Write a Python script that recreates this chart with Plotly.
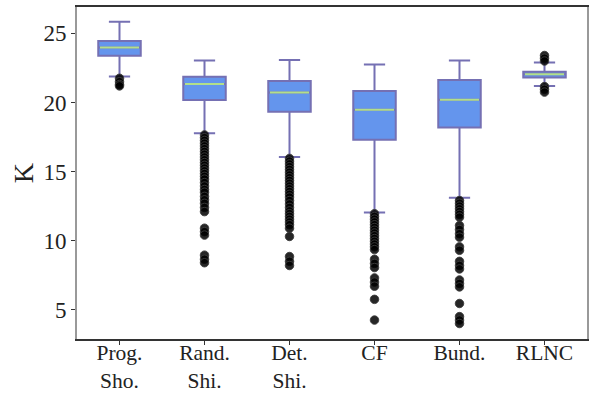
import plotly.graph_objects as go

# Schemes compared, as shown on the x axis
labels = ["Prog.<br>Sho.", "Rand.<br>Shi.", "Det.<br>Shi.", "CF", "Bund.", "RLNC"]

# Box statistics of K per scheme
q1 = [23.38, 20.17, 19.32, 17.31, 18.19, 21.80]
median = [23.98, 21.34, 20.73, 19.47, 20.20, 22.05]
q3 = [24.45, 21.87, 21.56, 20.83, 21.63, 22.23]
lower_whisker = [21.88, 17.77, 16.05, 12.04, 13.10, 21.20]
upper_whisker = [25.85, 23.03, 23.08, 22.74, 23.03, 22.89]

# Outlying runs per scheme
outliers_prog = [21.75, 21.5, 21.3, 21.2]
outliers_rand = [17.65, 17.45, 17.25, 17.05, 16.85, 16.65, 16.45, 16.25, 16.05,
                 15.85, 15.65, 15.45, 15.25, 15.05, 14.85, 14.65, 14.45,
                 14.2, 13.95, 13.7, 13.5, 13.2, 12.95, 12.7, 12.4, 12.1,
                 10.9, 10.65, 10.4, 8.95, 8.65, 8.4]
outliers_det = [15.95, 15.75, 15.55, 15.35, 15.15, 14.95, 14.75, 14.55, 14.35,
                14.15, 13.95, 13.75, 13.55, 13.35, 13.15, 12.9, 12.65, 12.4,
                12.15, 11.95, 11.75, 11.55, 11.35, 11.15, 10.9, 10.3,
                8.85, 8.5, 8.2]
outliers_cf = [11.95, 11.75, 11.55, 11.35, 11.15, 10.95, 10.75, 10.55, 10.35,
               10.15, 9.95, 9.75, 9.55, 9.35, 8.65, 8.35, 8.05,
               7.3, 7.0, 6.7, 5.75, 4.25]
outliers_bund = [12.9, 12.7, 12.5, 12.3, 12.1, 11.9, 11.7, 11.1, 10.8, 10.5,
                 10.25, 9.55, 9.3, 8.5, 8.2, 7.95, 7.15, 6.9, 6.65, 5.45,
                 4.5, 4.25, 4.0]
outliers_rlnc = [23.4, 23.2, 23.0, 21.15, 20.95, 20.75]

outliers = [outliers_prog, outliers_rand, outliers_det,
            outliers_cf, outliers_bund, outliers_rlnc]

yticks = [5, 10, 15, 20, 25]

BOX_W = 0.5
EDGE = "#7570b3"
FILL = "#6495ed"
MEDIAN = "#b2df8a"
FONT = "Liberation Serif"

positions = list(range(1, len(labels) + 1))

fig = go.Figure()

fig.add_trace(go.Box(
    x=positions,
    q1=q1, median=median, q3=q3,
    lowerfence=lower_whisker, upperfence=upper_whisker,
    width=BOX_W, whiskerwidth=0.5,
    fillcolor=FILL,
    line=dict(color=EDGE, width=2),
    boxpoints=False,
    showlegend=False,
    hoverinfo="skip",
))

# Median bars drawn over the boxes in their own colour
mx, my = [], []
for p, m in zip(positions, median):
    mx += [p - BOX_W / 2 + 0.02, p + BOX_W / 2 - 0.02, None]
    my += [m, m, None]
fig.add_trace(go.Scatter(
    x=mx, y=my, mode="lines",
    line=dict(color=MEDIAN, width=2),
    showlegend=False, hoverinfo="skip",
))

# Outlier markers
ox, oy = [], []
for p, vals in zip(positions, outliers):
    ox += [p] * len(vals)
    oy += vals
fig.add_trace(go.Scatter(
    x=ox, y=oy, mode="markers",
    marker=dict(size=8.5, color="rgba(0,0,0,0.85)",
                line=dict(color="rgba(60,60,60,0.9)", width=1)),
    showlegend=False, hoverinfo="skip",
))

fig.update_layout(
    width=591, height=393,
    margin=dict(l=77, r=4, t=7, b=54),
    plot_bgcolor="white", paper_bgcolor="white",
    font=dict(family=FONT, size=23, color="#222222"),
    xaxis=dict(
        range=[0.5, len(labels) + 0.5],
        tickvals=positions, ticktext=labels,
        tickfont=dict(size=21.5),
        ticklabelstandoff=-11,
        automargin=False,
        showgrid=False, zeroline=False,
        showline=True, mirror=True, linecolor="#333333", linewidth=1.5,
        ticks="outside", ticklen=4, tickcolor="#333333", tickwidth=1,
    ),
    yaxis=dict(
        range=[2.88, 26.91],
        tickvals=yticks,
        automargin=False,
        showgrid=False, zeroline=False,
        showline=True, mirror=True, linecolor="#999999", linewidth=2,
        ticks="outside", ticklen=4, tickcolor="#333333", tickwidth=1,
        title=dict(text="K", standoff=2),
    ),
)

fig.write_html("out.html")
